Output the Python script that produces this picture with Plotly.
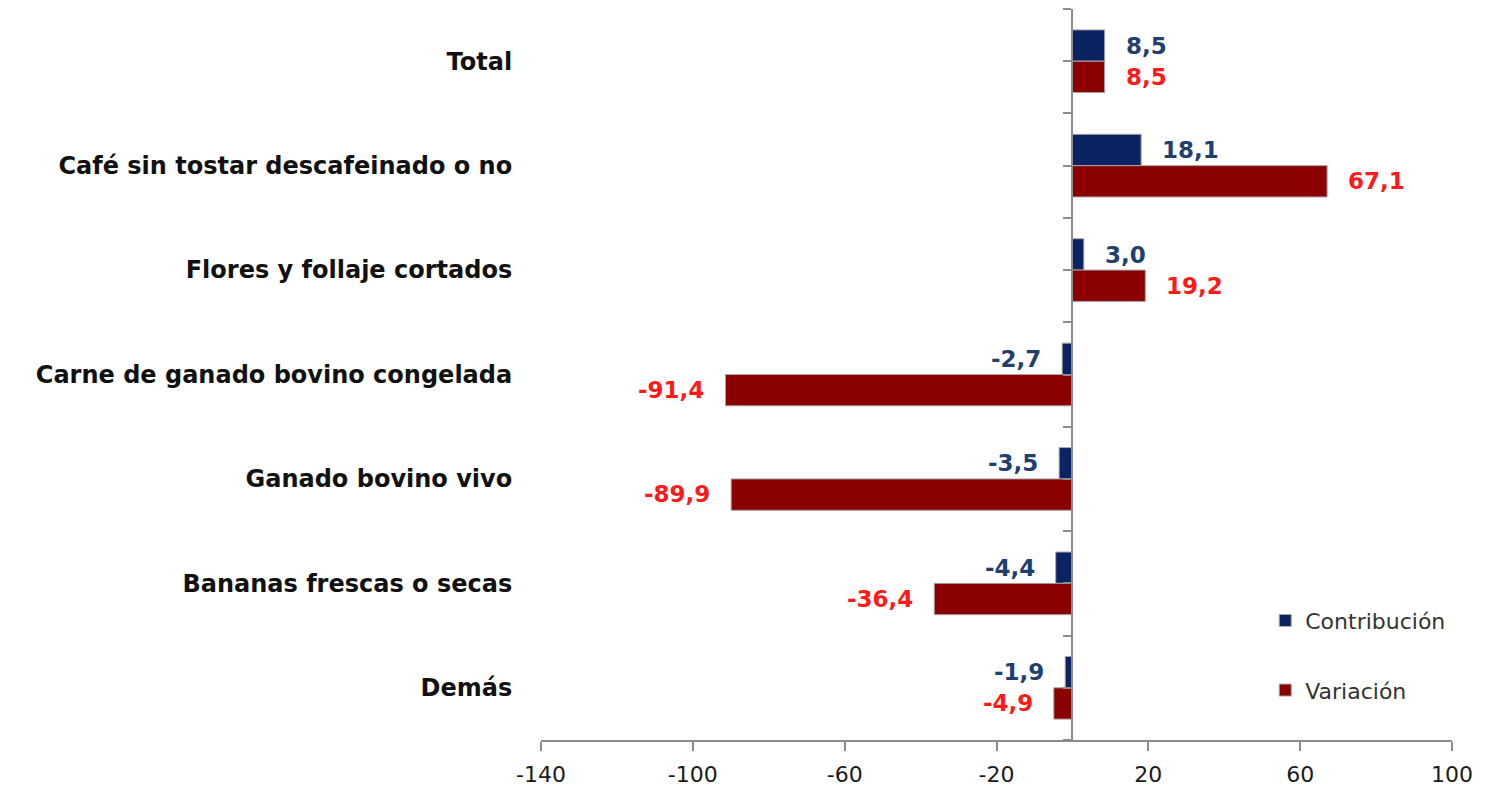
import plotly.graph_objects as go

categories = [
    "Total",
    "Café sin tostar descafeinado o no",
    "Flores y follaje cortados",
    "Carne de ganado bovino congelada",
    "Ganado bovino vivo",
    "Bananas frescas o secas",
    "Demás",
]
contribucion = [8.5, 18.1, 3.0, -2.7, -3.5, -4.4, -1.9]
variacion = [8.5, 67.1, 19.2, -91.4, -89.9, -36.4, -4.9]
x_ticks = [-140, -100, -60, -20, 20, 60, 100]

NAVY = "#0b2362"
DARK_RED = "#8b0000"
LABEL_NAVY = "#1f3f6e"
LABEL_RED = "#ff1a1a"
AXIS_GRAY = "#8c8c8c"
FONT = "DejaVu Sans"


def fmt(v):
    return f"{v:.1f}".replace(".", ",")


fig = go.Figure()

for name, vals, color, grp in [
    ("Contribución", contribucion, NAVY, "a"),
    ("Variación", variacion, DARK_RED, "b"),
]:
    fig.add_trace(
        go.Bar(
            y=categories,
            x=vals,
            orientation="h",
            name=name,
            legendgroup=grp,
            marker=dict(color=color, line=dict(color="#a6a6a6", width=1)),
        )
    )

# invisible helper so the axis at x = 0 gets drawn
fig.add_trace(
    go.Scatter(
        x=[0, 0],
        y=[0, len(categories)],
        yaxis="y2",
        mode="lines",
        line=dict(width=0),
        showlegend=False,
        hoverinfo="skip",
    )
)

# data labels, offset a little from the bar ends
annotations = []
for cat, c, v in zip(categories, contribucion, variacion):
    for val, col, ys in [(c, LABEL_NAVY, 15.5), (v, LABEL_RED, -15.5)]:
        annotations.append(
            dict(
                x=val,
                y=cat,
                xref="x",
                yref="y",
                text=fmt(val),
                showarrow=False,
                xanchor="left" if val >= 0 else "right",
                xshift=19 if val >= 0 else -19,
                yshift=ys,
                font=dict(family=FONT, size=23, color=col, weight="bold"),
            )
        )

fig.update_layout(
    barmode="group",
    bargap=0.4,
    bargroupgap=0,
    width=1491,
    height=786,
    margin=dict(l=541, r=39, t=9, b=46),
    plot_bgcolor="white",
    paper_bgcolor="white",
    font=dict(family=FONT, color="#1a1a1a"),
    annotations=annotations,
    legend=dict(
        x=0.795,
        y=0.192,
        xanchor="left",
        yanchor="top",
        tracegroupgap=38,
        font=dict(family=FONT, size=22, color="#333333"),
        bgcolor="rgba(0,0,0,0)",
        itemwidth=30,
    ),
    xaxis=dict(
        range=[-140, 100],
        tickvals=x_ticks,
        ticktext=[str(t) for t in x_ticks],
        showgrid=False,
        zeroline=False,
        showline=True,
        linecolor=AXIS_GRAY,
        linewidth=2,
        ticks="outside",
        ticklen=9,
        tickwidth=2,
        tickcolor=AXIS_GRAY,
        ticklabelstandoff=5,
        tickfont=dict(size=22, color="#1a1a1a"),
        automargin=False,
    ),
    yaxis=dict(
        autorange="reversed",
        categoryorder="array",
        categoryarray=categories,
        showgrid=False,
        showline=False,
        zeroline=False,
        ticks="outside",
        ticklen=23,
        tickcolor="rgba(0,0,0,0)",
        tickfont=dict(size=24, color="#111111", weight="bold"),
        automargin=False,
    ),
    # vertical axis line drawn at x = 0 with small ticks
    yaxis2=dict(
        overlaying="y",
        anchor="free",
        position=140 / 240,
        side="left",
        range=[len(categories), 0],
        dtick=0.5,
        tick0=0,
        showticklabels=False,
        showgrid=False,
        zeroline=False,
        showline=True,
        linecolor=AXIS_GRAY,
        linewidth=2,
        ticks="outside",
        ticklen=8,
        tickwidth=2,
        tickcolor=AXIS_GRAY,
        automargin=False,
    ),
)

fig.write_html(
    "out.html",
    config={"displayModeBar": False},
    post_script="document.body.style.margin='0';",
)
